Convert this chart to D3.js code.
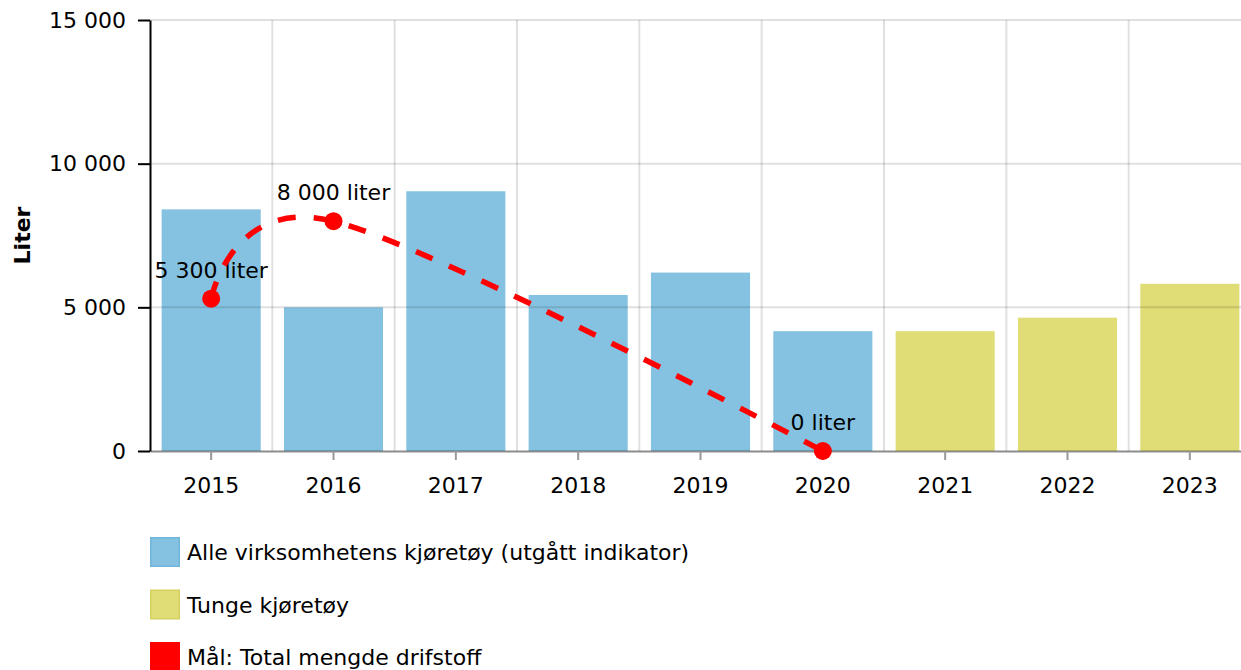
<!DOCTYPE html>
<html>
<head>
<meta charset="utf-8">
<script src="https://cdn.jsdelivr.net/npm/d3@7"></script>
<style>
  body { margin: 0; background: #fff; overflow: hidden; }
  svg text { font-family: "DejaVu Sans", Verdana, sans-serif; font-size: 22px; fill: #000; }
</style>
</head>
<body>
<div class="chart"></div>
<script>
// data
var years = ["2015", "2016", "2017", "2018", "2019", "2020", "2021", "2022", "2023"];
var alleValues = [8410, 5000, 9040, 5430, 6210, 4170, null, null, null];
var tungeValues = [null, null, null, null, null, null, 4170, 4640, 5820];
var maalYears = ["2015", "2016", "2020"];
var maalValues = [5300, 8000, 0];
var yTicks = [0, 5000, 10000, 15000];
var legendLabels = ["Alle virksomhetens kjøretøy (utgått indikator)", "Tunge kjøretøy", "Mål: Total mengde drifstoff"];

var colors = { alle: "#85c2e1", tunge: "#e0dc76", maal: "#ff0000" };
var borders = ["#6fb5dc", "#d5d160", "#ff0000"];

var width = 1241, height = 670;
var plotLeft = 150, plotRight = 1251, plotTop = 20, plotBottom = 451;

var nb = d3.formatLocale({ decimal: ",", thousands: " ", grouping: [3], currency: ["", ""] });
var fmt = nb.format(",");

var svg = d3.select(".chart").append("svg")
    .attr("width", width).attr("height", height);

var x = d3.scaleBand().domain(years).range([plotLeft, plotRight])
    .paddingInner(0.19).paddingOuter(0.095);
var y = d3.scaleLinear().domain([0, 15000]).range([plotBottom, plotTop]);

// bars
var barData = [];
years.forEach(function(yr, i) {
  if (alleValues[i] != null) barData.push({ year: yr, v: alleValues[i], c: colors.alle });
  if (tungeValues[i] != null) barData.push({ year: yr, v: tungeValues[i], c: colors.tunge });
});

svg.append("g").selectAll("rect")
  .data(barData)
  .enter().append("rect")
    .attr("x", function(d) { return x(d.year); })
    .attr("width", x.bandwidth())
    .attr("y", function(d) { return y(d.v); })
    .attr("height", function(d) { return y(0) - y(d.v); })
    .attr("fill", function(d) { return d.c; });

// grid
var grid = svg.append("g").attr("stroke", "rgba(0,0,0,0.12)").attr("stroke-width", 2);
grid.selectAll(".hg")
  .data(yTicks.filter(function(t) { return t > 0; }))
  .enter().append("line")
    .attr("x1", plotLeft).attr("x2", width)
    .attr("y1", function(d) { return y(d); })
    .attr("y2", function(d) { return y(d); });
grid.selectAll(".vg")
  .data(years.slice(1))
  .enter().append("line")
    .attr("x1", function(d) { return x(d) - x.step() * x.paddingInner() / 2; })
    .attr("x2", function(d) { return x(d) - x.step() * x.paddingInner() / 2; })
    .attr("y1", plotTop).attr("y2", plotBottom);

// x axis
var xAxis = svg.append("g")
    .attr("transform", "translate(0," + plotBottom + ")")
    .call(d3.axisBottom(x).tickSize(9).tickSizeOuter(0).tickPadding(12));
xAxis.select(".domain").attr("stroke", "rgba(0,0,0,0.45)").attr("stroke-width", 2);
xAxis.selectAll(".tick line").attr("stroke", "#999").attr("stroke-width", 2);
xAxis.selectAll("text").attr("font-size", null).attr("font-family", null).attr("dy", "0.95em");

// y axis
var yAxis = svg.append("g")
    .attr("transform", "translate(" + plotLeft + ",0)")
    .call(d3.axisLeft(y).tickValues(yTicks).tickFormat(fmt).tickSize(12).tickSizeOuter(0).tickPadding(12));
yAxis.select(".domain").attr("stroke", "#000").attr("stroke-width", 2);
yAxis.selectAll(".tick line").attr("stroke", "#000").attr("stroke-width", 2);
yAxis.selectAll("text").attr("font-size", null).attr("font-family", null);

svg.append("text")
    .attr("transform", "translate(30," + ((plotTop + plotBottom) / 2) + ") rotate(-90)")
    .attr("text-anchor", "middle")
    .attr("font-weight", "bold")
    .text("Liter");

// goal line
var maal = maalYears.map(function(yr, i) {
  return { x: x(yr) + x.bandwidth() / 2, y: y(maalValues[i]), v: maalValues[i] };
});

svg.selectAll(".lbl")
  .data(maal)
  .enter().append("text")
    .attr("x", function(d) { return d.x; })
    .attr("y", function(d) { return d.y - 21; })
    .attr("text-anchor", "middle")
    .text(function(d) { return fmt(d.v) + " liter"; });

var line = d3.line()
    .x(function(d) { return d.x; })
    .y(function(d) { return d.y; })
    .curve(d3.curveCardinal);

svg.append("path")
    .datum(maal)
    .attr("d", line)
    .attr("fill", "none")
    .attr("stroke", colors.maal)
    .attr("stroke-width", 5.5)
    .attr("stroke-dasharray", "18,18");

svg.selectAll(".dot")
  .data(maal)
  .enter().append("circle")
    .attr("cx", function(d) { return d.x; })
    .attr("cy", function(d) { return d.y; })
    .attr("r", 9)
    .attr("fill", colors.maal);

// legend
var legend = svg.append("g").selectAll("g")
  .data(legendLabels)
  .enter().append("g")
    .attr("transform", function(d, i) { return "translate(150," + (537 + i * 52.5) + ")"; });

legend.append("rect")
    .attr("x", 0.75).attr("y", 0.75)
    .attr("width", 28.5).attr("height", 28.5)
    .attr("fill", function(d, i) { return [colors.alle, colors.tunge, colors.maal][i]; })
    .attr("stroke", function(d, i) { return borders[i]; })
    .attr("stroke-width", 1.5);

legend.append("text")
    .attr("x", 37).attr("y", 23)
    .text(function(d) { return d; });
</script>
</body>
</html>
